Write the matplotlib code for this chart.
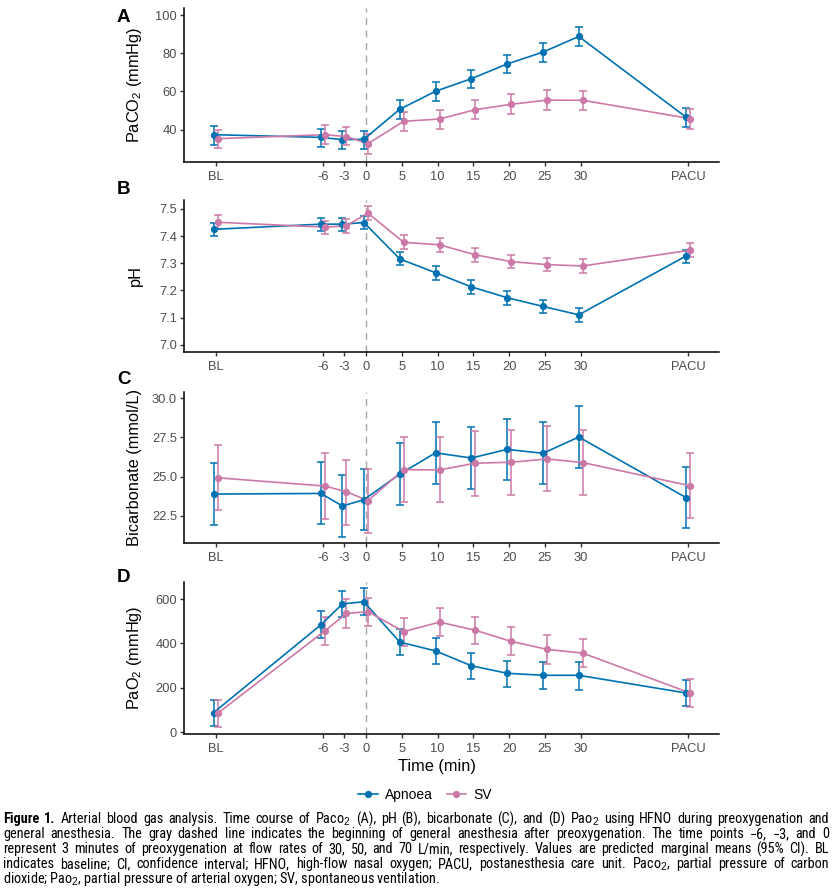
import matplotlib
matplotlib.use("Agg")
import matplotlib.pyplot as plt
from matplotlib.lines import Line2D
from matplotlib import font_manager
import numpy as np

# ---------------- data ----------------
x_labels = ["BL", "-6", "-3", "0", "5", "10", "15", "20", "25", "30", "PACU"]
x_pos = [-21, -6, -3, 0, 5, 10, 15, 20, 25, 30, 45]

paco2_apnoea = [37.4, 36.0, 34.8, 35.0, 50.7, 60.1, 66.7, 74.4, 80.6, 88.8, 46.5]
paco2_apnoea_lo = [32.2, 31.0, 29.7, 29.9, 45.8, 55.2, 61.8, 69.5, 75.6, 84.0, 41.6]
paco2_apnoea_hi = [42.1, 40.5, 39.3, 39.5, 55.5, 64.8, 71.4, 79.1, 85.4, 93.7, 51.2]
paco2_sv = [35.3, 37.4, 36.4, 32.7, 44.4, 45.6, 50.5, 53.3, 55.5, 55.4, 45.8]
paco2_sv_lo = [30.3, 32.7, 31.8, 27.5, 39.5, 40.5, 45.4, 48.2, 50.5, 50.3, 40.5]
paco2_sv_hi = [40.0, 42.6, 41.2, 37.6, 49.4, 50.5, 55.5, 58.5, 60.6, 60.4, 50.7]

ph_apnoea = [7.425, 7.444, 7.444, 7.450, 7.316, 7.265, 7.213, 7.173, 7.141, 7.110, 7.327]
ph_apnoea_lo = [7.400, 7.419, 7.419, 7.425, 7.292, 7.240, 7.188, 7.148, 7.115, 7.085, 7.300]
ph_apnoea_hi = [7.450, 7.467, 7.467, 7.474, 7.342, 7.289, 7.239, 7.199, 7.165, 7.136, 7.350]
ph_sv = [7.451, 7.433, 7.438, 7.485, 7.377, 7.368, 7.331, 7.306, 7.295, 7.290, 7.348]
ph_sv_lo = [7.425, 7.407, 7.413, 7.461, 7.352, 7.342, 7.305, 7.281, 7.270, 7.265, 7.322]
ph_sv_hi = [7.478, 7.457, 7.463, 7.510, 7.404, 7.393, 7.355, 7.332, 7.321, 7.316, 7.374]

bic_apnoea = [23.89, 23.93, 23.13, 23.53, 25.16, 26.52, 26.19, 26.74, 26.49, 27.53, 23.66]
bic_apnoea_lo = [21.92, 21.99, 21.18, 21.59, 23.17, 24.54, 24.23, 24.78, 24.52, 25.54, 21.71]
bic_apnoea_hi = [25.86, 25.94, 25.10, 25.50, 27.12, 28.46, 28.14, 28.69, 28.46, 29.51, 25.62]
bic_sv = [24.93, 24.40, 24.04, 23.47, 25.45, 25.43, 25.86, 25.92, 26.13, 25.90, 24.42]
bic_sv_lo = [22.85, 22.33, 21.94, 21.40, 23.36, 23.36, 23.76, 23.83, 24.06, 23.81, 22.37]
bic_sv_hi = [27.00, 26.49, 26.09, 25.52, 27.50, 27.50, 27.91, 27.97, 28.20, 27.95, 26.51]

pao2_apnoea = [87, 484, 578, 588, 406, 366, 299, 265, 256, 256, 176]
pao2_apnoea_lo = [27, 424, 517, 528, 346, 305, 239, 205, 196, 191, 117]
pao2_apnoea_hi = [144, 544, 638, 648, 465, 426, 358, 322, 314, 314, 235]
pao2_sv = [84, 457, 535, 543, 453, 496, 459, 409, 373, 356, 176]
pao2_sv_lo = [21, 394, 471, 480, 390, 433, 396, 346, 308, 293, 113]
pao2_sv_hi = [144, 519, 600, 605, 514, 559, 520, 472, 436, 420, 239]

series_names = ["Apnoea", "SV"]
panel_letters = ["A", "B", "C", "D"]
y_titles = ["PaCO$_2$ (mmHg)", "pH", "Bicarbonate (mmol/L)", "PaO$_2$ (mmHg)"]
y_ticks = [[40, 60, 80, 100], [7.0, 7.1, 7.2, 7.3, 7.4, 7.5],
           [22.5, 25.0, 27.5, 30.0], [0, 200, 400, 600]]
y_tick_labels = [["40", "60", "80", "100"], ["7.0", "7.1", "7.2", "7.3", "7.4", "7.5"],
                 ["22.5", "25.0", "27.5", "30.0"], ["0", "200", "400", "600"]]
x_title = "Time (min)"

caption_bold_words = ["Figure", "1."]
caption_lines = [
    "Figure 1. Arterial blood gas analysis. Time course of Paco$_2$ (A), pH (B), bicarbonate (C), and (D) Pao$_2$ using HFNO during preoxygenation and",
    "general anesthesia. The gray dashed line indicates the beginning of general anesthesia after preoxygenation. The time points \u22126, \u22123, and 0",
    "represent 3 minutes of preoxygenation at flow rates of 30, 50, and 70 L/min, respectively. Values are predicted marginal means (95% CI). BL",
    "indicates baseline; CI, confidence interval; HFNO, high-flow nasal oxygen; PACU, postanesthesia care unit. Paco$_2$, partial pressure of carbon",
    "dioxide; Pao$_2$, partial pressure of arterial oxygen; SV, spontaneous ventilation.",
]

# ---------------- style ----------------
BLUE = "#0072B2"
PINK = "#CC79A7"
colors = [BLUE, PINK]
dodge = [-0.28, 0.28]

plt.rcParams["font.family"] = ["Liberation Sans", "DejaVu Sans"]
plt.rcParams["mathtext.fontset"] = "custom"
plt.rcParams["mathtext.rm"] = "Liberation Sans"
plt.rcParams["mathtext.it"] = "Liberation Sans:italic"
plt.rcParams["mathtext.bf"] = "Liberation Sans:bold"

# pick a narrow font for the caption if one is installed
flist = font_manager.fontManager.ttflist
names = {f.name for f in flist}
cap_family, cap_stretch = "Liberation Sans", "normal"
for cand in ["Liberation Sans Narrow", "Roboto Condensed", "Open Sans Condensed"]:
    if cand in names:
        cap_family = cand
        break
else:
    if any(f.name == "DejaVu Sans" and str(f.stretch) in ("condensed", "semi-condensed")
           for f in flist):
        cap_family, cap_stretch = "DejaVu Sans", "condensed"

W, H = 832, 893
fig = plt.figure(figsize=(W / 100, H / 100), dpi=100)

panels = [
    (paco2_apnoea, paco2_apnoea_lo, paco2_apnoea_hi, paco2_sv, paco2_sv_lo, paco2_sv_hi),
    (ph_apnoea, ph_apnoea_lo, ph_apnoea_hi, ph_sv, ph_sv_lo, ph_sv_hi),
    (bic_apnoea, bic_apnoea_lo, bic_apnoea_hi, bic_sv, bic_sv_lo, bic_sv_hi),
    (pao2_apnoea, pao2_apnoea_lo, pao2_apnoea_hi, pao2_sv, pao2_sv_lo, pao2_sv_hi),
]
ylims = [(23.1, 103.7), (6.973, 7.533), (20.77, 30.4), (-9, 677)]
boxes = [(8, 162), (200, 352), (392, 543), (582, 734)]
left_px, right_px = 184, 719
letter_y = [17, 190, 380, 577]

xp = np.array(x_pos, dtype=float)
for i, (data, box) in enumerate(zip(panels, boxes)):
    top, bot = box
    ax = fig.add_axes([left_px / W, 1 - bot / H, (right_px - left_px) / W, (bot - top) / H])
    ax.axvline(0, color="#A6A6A6", lw=1.0, ls=(0, (5, 4)), zorder=1)
    groups = [(data[0], data[1], data[2]), (data[3], data[4], data[5])]
    for g, (m, lo, hi) in enumerate(groups):
        m = np.array(m); lo = np.array(lo); hi = np.array(hi)
        ax.errorbar(xp + dodge[g], m, yerr=[m - lo, hi - m], fmt="none",
                    ecolor=colors[g], elinewidth=1.1, capsize=2.6, capthick=1.1, zorder=2 + g)
    for g, (m, lo, hi) in enumerate(groups):
        ax.plot(xp + dodge[g], m, color=colors[g], lw=1.2, zorder=4 + g)
        ax.plot(xp + dodge[g], m, ls="none", marker="o", ms=4.2, color=colors[g],
                mec=colors[g], zorder=6 + g)
    ax.set_xlim(-25.4, 49.3)
    ax.set_ylim(*ylims[i])
    ax.set_xticks(x_pos)
    ax.set_xticklabels(x_labels)
    ax.set_yticks(y_ticks[i])
    ax.set_yticklabels(y_tick_labels[i])
    for s in ["top", "right"]:
        ax.spines[s].set_visible(False)
    for s in ["left", "bottom"]:
        ax.spines[s].set_linewidth(1.1)
        ax.spines[s].set_color("black")
    ax.tick_params(axis="both", length=3, width=1.0, color="#333333",
                   labelsize=9.3, labelcolor="#4D4D4D")
    ax.tick_params(axis="x", pad=3.5)
    ax.tick_params(axis="y", pad=2.0)
    ax.set_ylabel(y_titles[i], fontsize=11.8, color="black", va="center")
    ax.yaxis.set_label_coords((135 - left_px) / (right_px - left_px), 0.5)
    fig.text(117 / W, 1 - letter_y[i] / H, panel_letters[i], fontsize=13.5,
             fontweight="bold", ha="left", va="center")
    if i == 3:
        ax.set_xlabel(x_title, fontsize=11.8, color="black", va="center")
        ax.xaxis.set_label_coords((437 - left_px) / (right_px - left_px), (734 - 766) / (734 - 582))

# legend
handles = [Line2D([0], [0], color=c, lw=1.2, marker="o", ms=4.2) for c in colors]
fig.legend(handles, series_names, loc="center", bbox_to_anchor=(425 / W, 1 - 795 / H),
           ncol=2, frameon=False, fontsize=10, handlelength=1.4, handletextpad=0.5,
           columnspacing=1.0)

# caption: full-justified lines (last line left aligned), words as separate texts
line_y = [819.3, 834.3, 849.3, 864.3, 879.3]
cap_size = 10.3
x0_px, x1_px = 3.0, 829.0
fig.canvas.draw()
r = fig.canvas.get_renderer()
for k, line in enumerate(caption_lines):
    yk = 1 - line_y[k] / H
    if k == len(caption_lines) - 1:
        fig.text(x0_px / W, yk, line, fontsize=cap_size, family=cap_family,
                 fontstretch=cap_stretch, ha="left", va="center")
        continue
    words = line.split(" ")
    texts = []
    for j, wd in enumerate(words):
        bold = (k == 0 and j < len(caption_bold_words))
        t = fig.text(0, yk, wd, fontsize=cap_size, family=cap_family,
                     fontstretch=cap_stretch, fontweight="bold" if bold else "normal",
                     ha="left", va="center")
        texts.append(t)
    widths = [t.get_window_extent(r).width for t in texts]
    gap = (x1_px - x0_px - sum(widths)) / (len(texts) - 1)
    xcur = x0_px
    for t, wdt in zip(texts, widths):
        t.set_x(xcur / W)
        xcur += wdt + gap

fig.savefig("out.png", dpi=100)
